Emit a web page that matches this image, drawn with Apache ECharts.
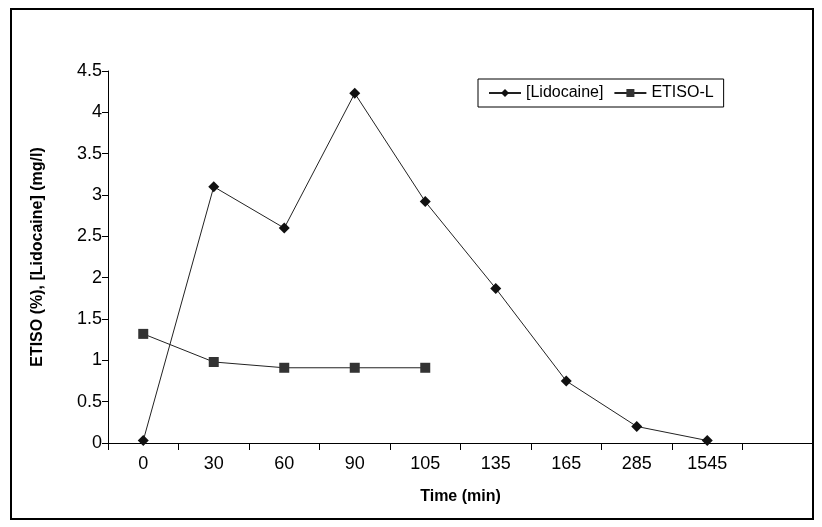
<!DOCTYPE html><html><head><meta charset="utf-8"><script src="https://cdn.jsdelivr.net/npm/echarts@6/dist/echarts.min.js"></script></head><body style="margin:0"><div id="c" style="width:822px;height:527px"></div><script>
const categories=['0','30','60','90','105','135','165','285','1545',''];
const lidocaine=[0.03,3.1,2.6,4.23,2.92,1.87,0.75,0.2,0.03,null];
const etiso=[1.32,0.98,0.91,0.91,0.91,null,null,null,null,null];
const yTicks=[0,0.5,1,1.5,2,2.5,3,3.5,4,4.5];
const ch=echarts.init(document.getElementById('c'));
const F='Liberation Sans, Arial, sans-serif';
ch.setOption({animation:false,
graphic:[{type:'rect',shape:{x:11,y:9,width:802,height:510},style:{fill:'none',stroke:'#000',lineWidth:2}}],
grid:{left:108,right:9,top:71,bottom:84},
legend:{top:79,left:478,itemGap:10,itemWidth:32,itemHeight:10,padding:[6,10],borderColor:'#000',borderWidth:1,textStyle:{fontFamily:F,fontSize:16,color:'#000'},data:['[Lidocaine]','ETISO-L']},
xAxis:{type:'category',data:categories,name:'Time (min)',nameLocation:'middle',nameGap:46,nameTextStyle:{fontFamily:F,fontWeight:'bold',fontSize:16,color:'#000'},axisLine:{lineStyle:{color:'#000'}},axisTick:{show:true,interval:0,lineStyle:{color:'#000'},length:7},axisLabel:{fontFamily:F,fontSize:18,color:'#000',margin:12}},
yAxis:{type:'value',min:0,max:4.5,interval:0.5,name:'ETISO (%), [Lidocaine] (mg/l)',nameLocation:'middle',nameGap:62,nameTextStyle:{fontFamily:F,fontWeight:'bold',fontSize:16,color:'#000'},splitLine:{show:false},axisLine:{show:true,lineStyle:{color:'#000'}},axisTick:{show:true,lineStyle:{color:'#000'},length:6},axisLabel:{fontFamily:F,fontSize:18,color:'#000',margin:6,formatter:v=>String(v)}},
series:[
{name:'[Lidocaine]',type:'line',data:lidocaine,symbol:'diamond',symbolSize:11,itemStyle:{color:'#111'},lineStyle:{color:'#222',width:1}},
{name:'ETISO-L',type:'line',data:etiso,symbol:'rect',symbolSize:10,itemStyle:{color:'#333'},lineStyle:{color:'#222',width:1}}]});
</script></body></html>
